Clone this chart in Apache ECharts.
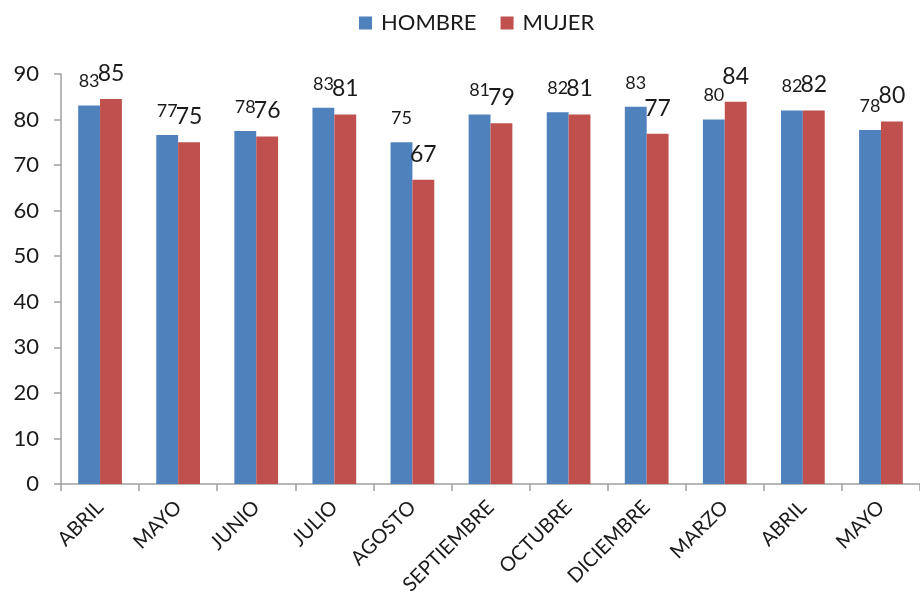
<!DOCTYPE html>
<html><head><meta charset="utf-8">
<script src="https://cdn.jsdelivr.net/npm/echarts@6/dist/echarts.min.js"></script>
<style>html,body{margin:0;padding:0;background:#fff}#c{width:920px;height:603px}</style>
</head><body><div id="c"></div>
<script>
const categories = ['ABRIL','MAYO','JUNIO','JULIO','AGOSTO','SEPTIEMBRE','OCTUBRE','DICIEMBRE','MARZO','ABRIL','MAYO'];
const hombre = [83.1, 76.6, 77.5, 82.6, 75.0, 81.1, 81.6, 82.8, 80.0, 82.0, 77.7];
const mujer = [84.5, 75.0, 76.3, 81.1, 66.8, 79.2, 81.1, 76.9, 83.9, 82.0, 79.6];
const yTicks = {min: 0, max: 90, interval: 10};
const font = 'Lato, "Open Sans", sans-serif';
const chart = echarts.init(document.getElementById('c'));
chart.setOption({
  animation: false,
  textStyle: {fontFamily: font},
  legend: {
    top: 7, left: 354, itemWidth: 13, itemHeight: 13, itemGap: 24,
    icon: 'rect',
    textStyle: {fontSize: 22, color: '#1a1a1a', fontFamily: font, padding: [0, 0, 0, 4]},
    data: ['HOMBRE','MUJER']
  },
  grid: {left: 61, right: 0, top: 74, bottom: 119, containLabel: false},
  xAxis: {
    type: 'category', data: categories,
    axisLine: {lineStyle: {color: '#a0a0a0', width: 1.5}},
    axisTick: {show: true, length: 7, lineStyle: {color: '#a0a0a0', width: 1.5}},
    axisLabel: {rotate: 45, fontSize: 20, color: '#1a1a1a', margin: 20, interval: 0, fontFamily: font}
  },
  yAxis: {
    type: 'value', min: yTicks.min, max: yTicks.max, interval: yTicks.interval,
    axisLine: {show: true, lineStyle: {color: '#a0a0a0', width: 1.5}},
    axisTick: {show: true, length: 7, lineStyle: {color: '#a0a0a0', width: 1.5}},
    splitLine: {show: false},
    axisLabel: {fontSize: 22, color: '#1a1a1a', margin: 22, fontFamily: font}
  },
  series: [
    {name: 'HOMBRE', type: 'bar', data: hombre, barGap: '0%', barCategoryGap: '44%',
     itemStyle: {color: '#4F81BD'},
     label: {show: true, position: 'top', distance: 15, fontSize: 18, color: '#1a1a1a',
             formatter: p => Math.round(p.value)}},
    {name: 'MUJER', type: 'bar', data: mujer, barGap: '0%', barCategoryGap: '44%',
     itemStyle: {color: '#C0504D'},
     label: {show: true, position: 'top', distance: 14, fontSize: 23, color: '#1a1a1a',
             formatter: p => Math.round(p.value)}}
  ]
});
</script></body></html>
